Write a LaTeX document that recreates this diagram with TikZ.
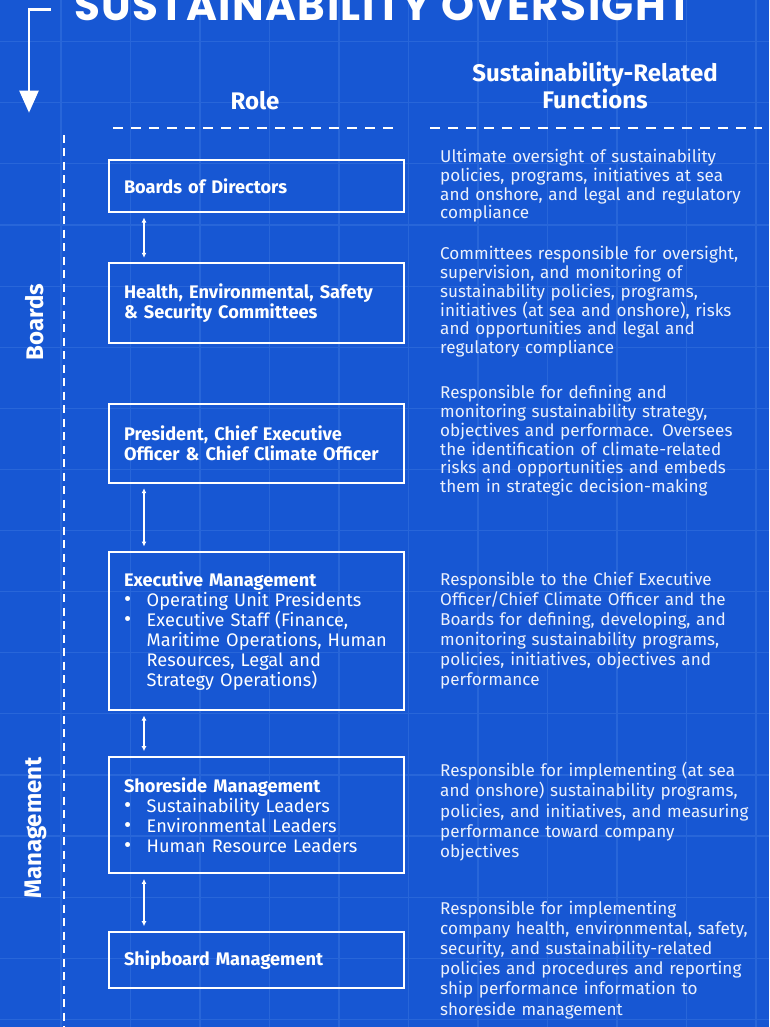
\documentclass[tikz,border=0pt]{standalone}
\usepackage{fontspec}
\setmainfont{Fira Sans}
\newfontfamily\titlefont{Poppins}[LetterSpace=3.5]
\usetikzlibrary{positioning,arrows.meta}
\definecolor{bgblue}{RGB}{23,87,211}
\definecolor{gridblue}{RGB}{40,102,217}
\definecolor{paletext}{RGB}{236,241,252}
\tikzset{
  rolebox/.style={draw=white,line width=2pt,anchor=north west,minimum width=295pt,text width=265pt,inner xsep=15pt,inner ysep=0pt,align=left,text=white,font=\fontsize{18.2}{20}\selectfont},
  func/.style={anchor=base west,inner sep=0pt,text width=329pt,align=left,text=paletext},
  colhead/.style={anchor=base,inner sep=0pt,text=white,font=\fontsize{24}{28}\selectfont\bfseries},
  sidelabel/.style={rotate=90,inner sep=0pt,text=white,font=\fontsize{24}{28}\selectfont\bfseries},
  link/.style={white,line width=1.5pt,{Latex[length=5pt,width=5pt]}-{Latex[length=5pt,width=5pt]},shorten <=4.5pt,shorten >=4.5pt},
  gridline/.style={gridblue,line width=1.2pt},
}
\newcommand{\roleitem}[1]{\par\noindent\makebox[22.7pt][l]{\raisebox{-0.5pt}{\fontsize{22}{20}\selectfont•}}\parbox[t]{242pt}{\raggedright #1}}

\begin{document}
\begin{tikzpicture}[x=1pt,y=-1pt]
	\useasboundingbox (0,0) rectangle (769,1027);
	\fill[bgblue] (0,0) rectangle (769,1027);
	\foreach \gx in {0,...,10}
		\draw[gridline] ({61+69.5*\gx},0) -- ++(0,1027);
	\foreach \gy in {0,...,16}
		\draw[gridline] (0,{41.7+61.1*\gy}) -- ++(769,0);

	\node[anchor=base west,inner sep=0pt,text=white,font=\titlefont\fontsize{42}{46}\selectfont\bfseries] (title) at (74,20.5) {SUSTAINABILITY OVERSIGHT};
	\coordinate (bend) at (29,9.5);
	\draw[white,line width=2.3pt,-{Triangle[length=22pt,width=19pt]}] (51,9.5) -- (bend) -- (29,112.7);

	\node[colhead] (rolehead) at (255,110) {Role};
	\node[colhead] (funchead) at (595,81.7) {Sustainability-Related};
	\node[colhead] (funchead2) at (595,108.3) {Functions};
	\draw[white,line width=2pt,dash pattern=on 10pt off 8pt] (113,128.5) -- (400,128.5);
	\draw[white,line width=2pt,dash pattern=on 10pt off 8pt] (430,128.5) -- (762,128.5);
	\draw[white,line width=2pt,dash pattern=on 8pt off 5.5pt] (64,135) -- (64,1027);

	\node[sidelabel] (boards) at (35,322) {Boards};
	\node[sidelabel] (mgmt) at (36,828) {Management};

	\node[rolebox,minimum height=52pt] (bod) at (108,159) {\bfseries Boards of Directors};
	\node[rolebox,minimum height=79.5pt] (hess) at (108,262.3) {\bfseries Health, Environmental, Safety\\ \& Security Committees};
	\node[rolebox,minimum height=79pt] (pres) at (108,402.7) {\bfseries President, Chief Executive\\ Officer \& Chief Climate Officer};
	\node[rolebox,minimum height=158pt] (exec) at (108,551) {{\bfseries Executive Management}\roleitem{Operating Unit Presidents}\roleitem{Executive Staff (Finance,\\ Maritime Operations, Human\\ Resources, Legal and\\ Strategy Operations)}};
	\node[rolebox,minimum height=116.7pt] (shore) at (108,755.7) {{\bfseries Shoreside Management}\roleitem{Sustainability Leaders}\roleitem{Environmental Leaders}\roleitem{Human Resource Leaders}};
	\node[rolebox,minimum height=56.7pt] (ship) at (108,930.7) {\bfseries Shipboard Management};

	\draw[link] ([xshift=36pt]bod.south west) -- ([xshift=36pt]hess.north west);
	\draw[link] ([xshift=36pt]pres.south west) -- ([xshift=36pt]exec.north west);
	\draw[link] ([xshift=36pt]exec.south west) -- ([xshift=36pt]shore.north west);
	\draw[link] ([xshift=36pt]shore.south west) -- ([xshift=36pt]ship.north west);

	\node[func,font=\fontsize{17.1}{18.9}\selectfont] (fbod) at (440,162.3) {Ultimate oversight of sustainability\\ policies, programs, initiatives at sea\\ and onshore, and legal and regulatory\\ compliance};
	\node[func,font=\fontsize{17.1}{18.9}\selectfont] (fhess) at (440,259.3) {Committees responsible for oversight,\\ supervision, and monitoring of\\ sustainability policies, programs,\\ initiatives (at sea and onshore), risks\\ and opportunities and legal and\\ regulatory compliance};
	\node[func,font=\fontsize{17.1}{18.9}\selectfont] (fpres) at (440,398.3) {Responsible for defining and\\ monitoring sustainability strategy,\\ objectives and performace. Oversees\\ the identification of climate-related\\ risks and opportunities and embeds\\ them in strategic decision-making};
	\node[func,font=\fontsize{17.1}{20.1}\selectfont] (fexec) at (440,585) {Responsible to the Chief Executive\\ Officer/Chief Climate Officer and the\\ Boards for defining, developing, and\\ monitoring sustainability programs,\\ policies, initiatives, objectives and\\ performance};
	\node[func,font=\fontsize{17.1}{20.2}\selectfont] (fshore) at (440,776.7) {Responsible for implementing (at sea\\ and onshore) sustainability programs,\\ policies, and initiatives, and measuring\\ performance toward company\\ objectives};
	\node[func,font=\fontsize{17.1}{20.2}\selectfont] (fship) at (440,914) {Responsible for implementing\\ company health, environmental, safety,\\ security, and sustainability-related\\ policies and procedures and reporting\\ ship performance information to\\ shoreside management};
\end{tikzpicture}
\end{document}
